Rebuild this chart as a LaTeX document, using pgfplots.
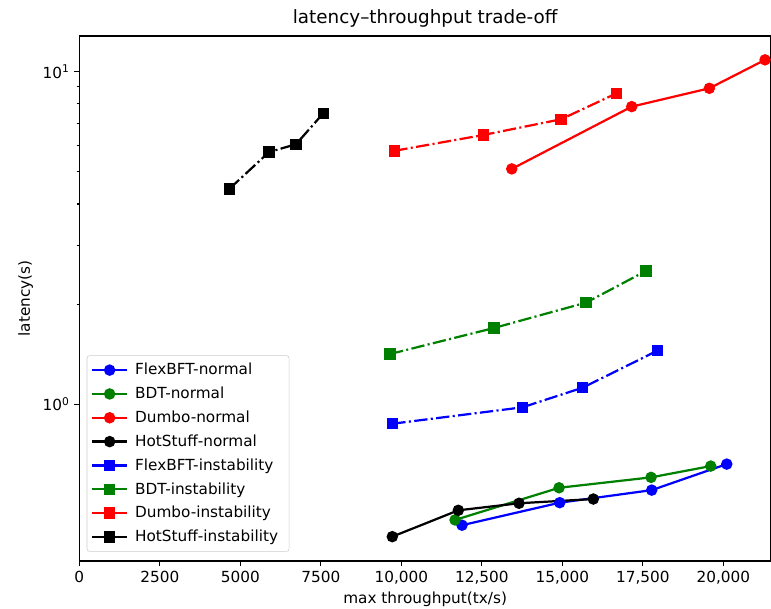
\documentclass[border=0pt]{standalone}
\usepackage{fontspec}
\setmainfont{DejaVu Sans}
\usepackage{pgfplots}
\pgfplotsset{compat=1.18}
\definecolor{mplgreen}{rgb}{0,0.5,0}
\begin{document}
\begin{tikzpicture}[x=1pt,y=1pt]
\path[use as bounding box] (-57.1,-34.56) rectangle (498.0,403.9);
\begin{semilogyaxis}[
  scale only axis, width=498pt, height=378pt,
  at={(0,0)}, anchor=south west,
  xmin=0, xmax=21480, ymin=0.338, ymax=12.8,
  scaled x ticks=false,
  xtick={0,2500,5000,7500,10000,12500,15000,17500,20000},
  xticklabels={0,{2500},{5000},{7500},{10,000},{12,500},{15,000},{17,500},{20,000}},
  ytick={1,10},
  yticklabels={10\textsuperscript{0},10\textsuperscript{1}},
  tick align=outside, xtick pos=bottom, ytick pos=left,
  major tick length=3.5pt, minor tick length=2pt,
  every tick/.style={black, line width=0.8pt},
  axis line style={line width=0.8pt},
  tick label style={font=\fontsize{11}{13}\selectfont},
  title={latency–throughput trade-off},
  title style={font=\fontsize{13.2}{15}\selectfont, yshift=-3pt},
  xlabel={max throughput(tx/s)},
  ylabel={latency(s)},
  xlabel style={yshift=1pt},
  label style={font=\fontsize{11}{13}\selectfont},
  legend cell align=left,
  legend style={at={(0.0107,0.0177)}, anchor=south west, draw=white!80!black,
    rounded corners=2pt, fill=white,
    font=\fontsize{11}{13}\selectfont, row sep=3.3pt, inner xsep=3pt, inner ysep=3.5pt,
    nodes={inner xsep=5pt}},
  legend image code/.code={\draw[mark repeat=2,mark phase=2] plot coordinates {(0cm,0cm) (0.44cm,0cm) (0.88cm,0cm)};},
  every axis plot/.append style={line width=1.6pt, mark size=3.3pt},
]
\addplot[blue, mark=*, mark options={solid}] coordinates {(11885,0.433) (14919,0.506) (17776,0.552) (20106,0.661)};
\addlegendentry{FlexBFT-normal}
\addplot[mplgreen, mark=*, mark options={solid}] coordinates {(11668,0.449) (14898,0.561) (17755,0.603) (19609,0.652)};
\addlegendentry{BDT-normal}
\addplot[red, mark=*, mark options={solid}] coordinates {(13429,5.10) (17155,7.85) (19565,8.91) (21295,10.85)};
\addlegendentry{Dumbo-normal}
\addplot[black, mark=*, mark options={solid}] coordinates {(9720,0.400) (11770,0.480) (13655,0.504) (15963,0.519)};
\addlegendentry{HotStuff-normal}
\addplot[blue, mark=square*, mark options={solid}, dash pattern=on 9.6pt off 2.4pt on 1.5pt off 2.4pt] coordinates {(9720,0.874) (13758,0.979) (15634,1.122) (17950,1.449)};
\addlegendentry{FlexBFT-instability}
\addplot[mplgreen, mark=square*, mark options={solid}, dash pattern=on 9.6pt off 2.4pt on 1.5pt off 2.4pt] coordinates {(9649,1.416) (12879,1.696) (15736,2.021) (17599,2.517)};
\addlegendentry{BDT-instability}
\addplot[red, mark=square*, mark options={solid}, dash pattern=on 9.6pt off 2.4pt on 1.5pt off 2.4pt] coordinates {(9783,5.78) (12547,6.45) (14960,7.19) (16689,8.61)};
\addlegendentry{Dumbo-instability}
\addplot[black, mark=square*, mark options={solid}, dash pattern=on 9.6pt off 2.4pt on 1.5pt off 2.4pt] coordinates {(4658,4.44) (5891,5.73) (6730,6.05) (7578,7.50)};
\addlegendentry{HotStuff-instability}
\end{semilogyaxis}
\end{tikzpicture}
\end{document}
